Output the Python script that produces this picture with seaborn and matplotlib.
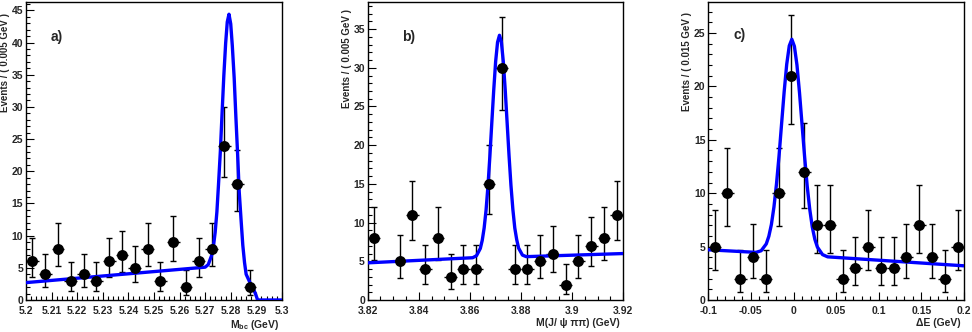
import matplotlib
matplotlib.use('Agg')
import matplotlib.pyplot as plt
import seaborn as sns
from matplotlib.ticker import AutoMinorLocator, MultipleLocator

# ---- panel a) : M_bc ----
a_x = [5.2025, 5.2075, 5.2125, 5.2175, 5.2225, 5.2275, 5.2325, 5.2375, 5.2425,
       5.2475, 5.2525, 5.2575, 5.2625, 5.2675, 5.2725, 5.2775, 5.2825, 5.2875]
a_n = [6, 4, 8, 3, 4, 3, 6, 7, 5, 8, 3, 9, 2, 6, 8, 24, 18, 2]
a_lo = [2.38, 1.91, 2.77, 1.63, 1.91, 1.63, 2.38, 2.58, 2.16, 2.77, 1.63, 2.94,
        1.29, 2.38, 2.77, 4.88, 4.22, 1.29]
a_hi = [3.58, 3.16, 3.95, 2.92, 3.16, 2.92, 3.58, 3.77, 3.38, 3.95, 2.92, 4.11,
        2.64, 3.58, 3.95, 6.0, 5.33, 2.64]
a_fit_x = [5.2, 5.27, 5.2712, 5.2725, 5.27322, 5.2739, 5.27458, 5.2752, 5.27593,
           5.2766, 5.27728, 5.2780, 5.27863, 5.2793, 5.27998, 5.2806, 5.28133,
           5.2820, 5.28268, 5.2833, 5.28403, 5.2847, 5.28538, 5.2860, 5.2875,
           5.2888, 5.2897, 5.2905, 5.3]
a_fit_y = [2.7, 5.1, 5.5, 6.9, 8.3, 10.5, 13.7, 17.9, 23.1,
           29.0, 34.8, 39.9, 43.2, 44.4, 42.9, 39.5, 34.5,
           28.4, 22.6, 16.8, 12.4, 8.5, 5.8, 4.0, 2.7,
           1.8, 0.9, 0.0, 0.0]
a_ticks = [5.2, 5.21, 5.22, 5.23, 5.24, 5.25, 5.26, 5.27, 5.28, 5.29, 5.3]
a_ticklabels = ['5.2', '5.21', '5.22', '5.23', '5.24', '5.25', '5.26', '5.27',
                '5.28', '5.29', '5.3']

# ---- panel b) : M(J/psi pi pi) ----
b_x = [3.8225, 3.8325, 3.8375, 3.8425, 3.8475, 3.8525, 3.8575, 3.8625, 3.8675,
       3.8725, 3.8775, 3.8825, 3.8875, 3.8925, 3.8975, 3.9025, 3.9075, 3.9125, 3.9175]
b_n = [8, 5, 11, 4, 8, 3, 4, 4, 15, 30, 4, 4, 5, 6, 2, 5, 7, 8, 11]
b_lo = [2.77, 2.16, 3.27, 1.91, 2.77, 1.63, 1.91, 1.91, 3.85, 5.45, 1.91, 1.91,
        2.16, 2.38, 1.29, 2.16, 2.58, 2.77, 3.27]
b_hi = [3.95, 3.38, 4.42, 3.16, 3.95, 2.92, 3.16, 3.16, 4.96, 6.6, 3.16, 3.16,
        3.38, 3.58, 2.64, 3.38, 3.77, 3.95, 4.42]
b_fit_x = [3.82, 3.8611, 3.8626, 3.8641, 3.86485, 3.8656, 3.86635, 3.8671,
           3.86785, 3.8686, 3.86935, 3.8701, 3.87085, 3.8716, 3.87235, 3.8731,
           3.87385, 3.8746, 3.87535, 3.8761, 3.87685, 3.8776, 3.87835, 3.8791,
           3.8806, 3.8821, 3.92]
b_fit_y = [4.8, 5.46, 5.72, 6.66, 7.7, 9.3, 11.6, 14.75,
           18.6, 22.9, 27.1, 30.8, 33.3, 34.2, 33.35, 30.8,
           27.15, 22.9, 18.65, 14.8, 11.7, 9.3, 7.8, 6.7,
           5.8, 5.6, 6.0]
b_ticks = [3.82, 3.84, 3.86, 3.88, 3.9, 3.92]
b_ticklabels = ['3.82', '3.84', '3.86', '3.88', '3.9', '3.92']

# ---- panel c) : Delta E ----
c_x = [-0.0925, -0.0775, -0.0625, -0.0475, -0.0325, -0.0175, -0.0025, 0.0125,
       0.0275, 0.0425, 0.0575, 0.0725, 0.0875, 0.1025, 0.1175, 0.1325, 0.1475,
       0.1625, 0.1775, 0.1925]
c_n = [5, 10, 2, 4, 2, 10, 21, 12, 7, 7, 2, 3, 5, 3, 3, 4, 7, 4, 2, 5]
c_lo = [2.16, 3.11, 1.29, 1.91, 1.29, 3.11, 4.56, 3.42, 2.58, 2.58, 1.29, 1.63,
        2.16, 1.63, 1.63, 1.91, 2.58, 1.91, 1.29, 2.16]
c_hi = [3.38, 4.27, 2.64, 3.16, 2.64, 4.27, 5.68, 4.56, 3.77, 3.77, 2.64, 2.92,
        3.38, 2.92, 2.92, 3.16, 3.77, 3.16, 2.64, 3.38]
c_fit_x = [-0.1, -0.044, -0.038, -0.032, -0.029, -0.026, -0.023, -0.020, -0.017,
           -0.014, -0.011, -0.008, -0.005, -0.002, 0.001, 0.004, 0.007, 0.010,
           0.013, 0.016, 0.019, 0.022, 0.025, 0.028, 0.034, 0.040, 0.2]
c_fit_y = [4.7, 4.46, 4.61, 5.25, 5.96, 7.06, 8.7, 10.86, 13.5,
           16.52, 19.5, 22.07, 23.8, 24.41, 23.75, 22.01, 19.4, 16.4,
           13.4, 10.68, 8.5, 6.82, 5.68, 4.95, 4.25, 4.04, 3.2]
c_ticks = [-0.1, -0.05, 0.0, 0.05, 0.1, 0.15, 0.2]
c_ticklabels = ['-0.1', '-0.05', '0', '0.05', '0.1', '0.15', '0.2']

sns.set_theme(style='ticks')
plt.rcParams['font.family'] = ['Liberation Sans', 'DejaVu Sans']
plt.rcParams['font.weight'] = 'bold'
plt.rcParams['axes.labelweight'] = 'bold'
plt.rcParams['mathtext.fontset'] = 'custom'
plt.rcParams['mathtext.rm'] = 'Liberation Sans:bold'
plt.rcParams['mathtext.it'] = 'Liberation Sans:bold'
plt.rcParams['mathtext.bf'] = 'Liberation Sans:bold'

fig = plt.figure(figsize=(9.72, 3.32), dpi=100)


def panel(rect, x, n, lo, hi, binw, fx, fy, xlim, ylim, ticks, ticklabels,
          nminor, ylabel, ylab_pos, xlabel, xlab_x, tag, tag_pos):
    ax = fig.add_axes(rect)
    # error bars: vertical with caps, horizontal = bin width without caps
    ax.errorbar(x, n, yerr=[lo, hi], fmt='none', ecolor='black',
                elinewidth=1, capsize=2.5, capthick=1, zorder=2)
    ax.errorbar(x, n, xerr=binw / 2, fmt='none', ecolor='black',
                elinewidth=1, capsize=0, zorder=2)
    sns.lineplot(x=fx, y=fy, color='blue', linewidth=2.4, sort=False,
                 estimator=None, ax=ax, zorder=3, solid_joinstyle='round')
    sns.scatterplot(x=x, y=n, color='black', s=62, marker='o',
                    linewidth=0, ax=ax, zorder=4)
    ax.set_xlim(*xlim)
    ax.set_ylim(*ylim)
    ax.set_xticks(ticks)
    ax.set_xticklabels(ticklabels)
    ax.xaxis.set_minor_locator(AutoMinorLocator(nminor))
    ax.yaxis.set_major_locator(MultipleLocator(5))
    ax.yaxis.set_minor_locator(MultipleLocator(1))
    ax.tick_params(which='major', direction='in', length=6, width=0.8,
                   labelsize=7.5, pad=2, top=False, right=False, color='black')
    ax.tick_params(which='minor', direction='in', length=3, width=0.8,
                   top=False, right=False, color='black')
    ax.tick_params(axis='x', which='major', pad=4.5)
    for s in ax.spines.values():
        s.set_visible(True)
        s.set_color('black')
        s.set_linewidth(1)
    ax.set_ylabel(ylabel, loc='top', fontsize=7)
    ax.yaxis.set_label_coords(*ylab_pos)
    ax.set_xlabel(xlabel, loc='right', fontsize=7.5)
    ax.xaxis.set_label_coords(xlab_x, -0.062)
    ax.text(tag_pos[0], tag_pos[1], tag, transform=ax.transAxes, fontsize=10,
            fontweight='bold', ha='center', va='center')
    ax.set_facecolor('white')
    return ax


panel([0.0267, 0.0964, 0.2634, 0.8976], a_x, a_n, a_lo, a_hi, 0.005,
      a_fit_x, a_fit_y, (5.2, 5.3), (0, 46.3), a_ticks, a_ticklabels, 5,
      'Events / ( 0.005 GeV )', (-0.062, 0.962), r'M$_{\rm bc}$ (GeV)', 0.99,
      'a)', (0.121, 0.883))
panel([0.3783, 0.0964, 0.2627, 0.8976], b_x, b_n, b_lo, b_hi, 0.005,
      b_fit_x, b_fit_y, (3.82, 3.92), (0, 38.5), b_ticks, b_ticklabels, 4,
      'Events / ( 0.005 GeV )', (-0.061, 0.978), 'M(J/ ψ ππ) (GeV)', 0.988,
      'b)', (0.162, 0.883))
panel([0.7287, 0.0964, 0.2631, 0.8976], c_x, c_n, c_lo, c_hi, 0.015,
      c_fit_x, c_fit_y, (-0.1, 0.2), (0, 27.9), c_ticks, c_ticklabels, 5,
      'Events / ( 0.015 GeV )', (-0.065, 0.966), 'ΔE (GeV)', 0.987,
      'c)', (0.124, 0.889))

fig.savefig('out.png', dpi=100, facecolor='white')
